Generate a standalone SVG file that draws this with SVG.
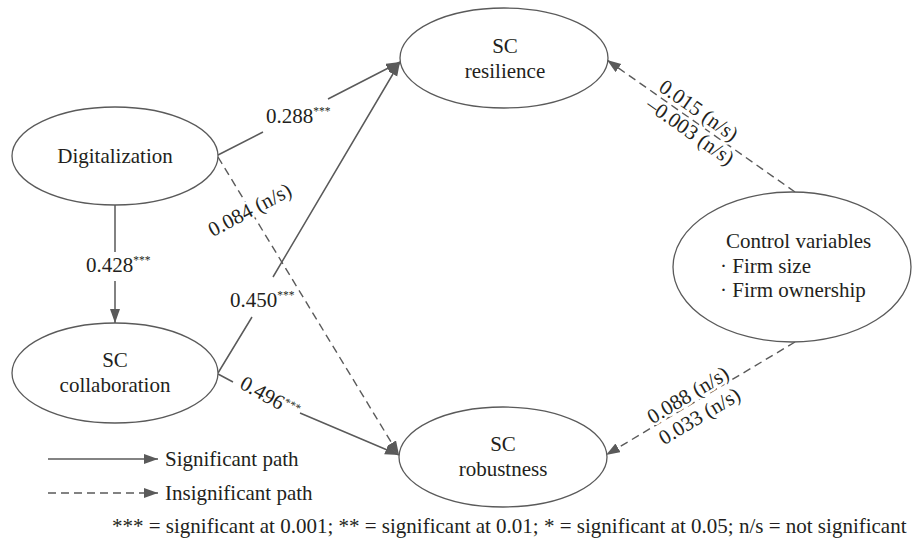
<svg xmlns="http://www.w3.org/2000/svg" width="912" height="543" viewBox="0 0 912 543">
<defs>
<marker id="arr" markerUnits="userSpaceOnUse" markerWidth="15" markerHeight="11" refX="14" refY="5" orient="auto">
<path d="M0,0 L14,5 L0,10 z" fill="#5a5a5a"/>
</marker>
<style>
text{font-family:"Liberation Serif","Times New Roman",serif;font-size:21px;fill:#231f20}
.node ellipse{fill:#fff;stroke:#5a5a5a;stroke-width:1.3}
.c{text-anchor:middle}
.solid{fill:none;stroke:#5a5a5a;stroke-width:1.5}
.dash{fill:none;stroke:#5a5a5a;stroke-width:1.4;stroke-dasharray:8 5}
.halo{paint-order:stroke;stroke:#fff;stroke-width:5;stroke-linejoin:round}
.sup{font-size:11.5px}
</style>
</defs>
<rect width="912" height="543" fill="#fff"/>
<g id="connectors">
<path class="solid" d="M218,155 L263,132 M328,99 L400,62" marker-end="url(#arr)"/>
<path class="solid" d="M115,205 L115,252 M115,281 L115,323" marker-end="url(#arr)"/>
<path class="dash" d="M218,157 L399,455" marker-end="url(#arr)"/>
<path class="solid" d="M218,373 L252,317 M273,277 L400,62" marker-end="url(#arr)"/>
<path class="solid" d="M218,374 L233,382 M300,413 L399,455" marker-end="url(#arr)"/>
<path class="dash" d="M795,192 L607,60" marker-end="url(#arr)"/>
<path class="dash" d="M795,342 L606,455" marker-end="url(#arr)"/>
</g>
<g id="edge-labels">
<text x="266" y="123">0.288<tspan class="sup" dy="-8">***</tspan></text>
<text x="86" y="272">0.428<tspan class="sup" dy="-8">***</tspan></text>
<text x="230" y="307">0.450<tspan class="sup" dy="-8">***</tspan></text>
<text class="c halo" transform="translate(253,216) rotate(-28)">0.084 (n/s)</text>
<text class="c" transform="translate(270,397) rotate(29)" y="7">0.496<tspan class="sup" dy="-7">***</tspan></text>
<g transform="translate(695,121) rotate(35)">
<text class="c halo" x="-3" y="-4">0.015 (n/s)</text>
<text class="c halo" x="2" y="18">–0.003 (n/s)</text>
</g>
<g transform="translate(694,403) rotate(-31)">
<text class="c halo" x="-1" y="-3">0.088 (n/s)</text>
<text class="c halo" x="-2" y="21">0.033 (n/s)</text>
</g>
</g>
<g id="digitalization" class="node">
<ellipse cx="115" cy="156" rx="103" ry="49"/>
<text class="c" x="115" y="163">Digitalization</text>
</g>
<g id="collaboration" class="node">
<ellipse cx="115" cy="373" rx="103" ry="50"/>
<text class="c" x="115" y="367">SC</text>
<text class="c" x="115" y="392">collaboration</text>
</g>
<g id="resilience" class="node">
<ellipse cx="504" cy="58" rx="104" ry="50"/>
<text class="c" x="505" y="53">SC</text>
<text class="c" x="505" y="78">resilience</text>
</g>
<g id="robustness" class="node">
<ellipse cx="503" cy="457" rx="104" ry="50"/>
<text class="c" x="503" y="451">SC</text>
<text class="c" x="503" y="476">robustness</text>
</g>
<g id="control" class="node">
<ellipse cx="792" cy="267" rx="119" ry="75"/>
<text x="726" y="248">Control variables</text>
<text x="720" y="273">· Firm size</text>
<text x="720" y="297">· Firm ownership</text>
</g>
<g id="legend">
<path class="solid" d="M48,459 L158,459" marker-end="url(#arr)"/>
<text x="165" y="466">Significant path</text>
<path class="dash" d="M48,493 L158,493" marker-end="url(#arr)"/>
<text x="165" y="500">Insignificant path</text>
<text x="112" y="533">*** = significant at 0.001; ** = significant at 0.01; * = significant at 0.05; n/s = not significant</text>
</g>
</svg>
